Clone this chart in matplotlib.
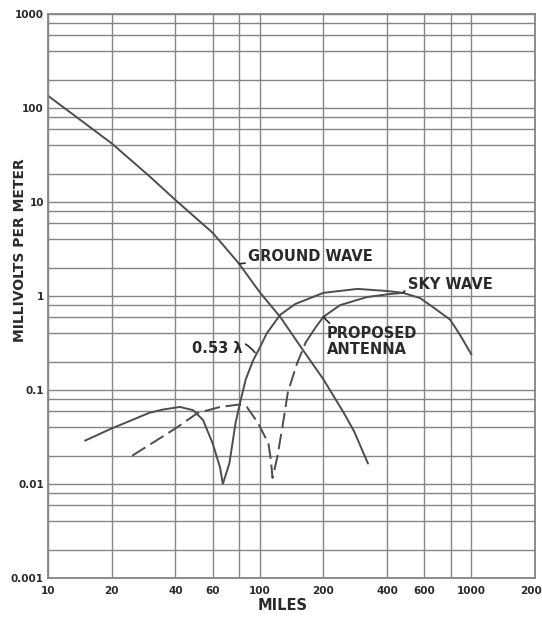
import numpy as np
import matplotlib
matplotlib.use("Agg")
import matplotlib.pyplot as plt
from matplotlib.ticker import FixedLocator, FixedFormatter, NullLocator

# ---------------- data ----------------
ground_x = [10, 20, 30, 40, 60, 80, 100, 125, 160, 200, 250, 280, 325]
ground_y = [135, 42, 19, 10.5, 4.7, 2.2, 1.1, 0.6, 0.267, 0.13, 0.057, 0.036, 0.0165]

lam053_x = [15, 20, 25, 30, 35, 42, 48.5, 54, 60, 65, 67, 72, 77, 81, 86, 93, 100,
            108, 125, 147, 200, 290, 400, 476, 573, 660, 794, 885, 1000]
lam053_y = [0.029, 0.039, 0.048, 0.057, 0.062, 0.066, 0.061, 0.048, 0.027, 0.015,
            0.010, 0.0167, 0.045, 0.075, 0.13, 0.205, 0.28, 0.40, 0.63, 0.82, 1.08,
            1.19, 1.13, 1.08, 0.95, 0.76, 0.56, 0.385, 0.24]

proposed_x = [25, 40, 51, 65, 80, 87, 98, 110, 113, 115, 121, 128, 136, 150, 165,
              183, 200, 240, 322, 413, 476]
proposed_y = [0.02, 0.039, 0.057, 0.066, 0.07, 0.066, 0.045, 0.027, 0.018, 0.0116,
              0.019, 0.04, 0.095, 0.19, 0.32, 0.457, 0.60, 0.80, 0.975, 1.05, 1.08]
proposed_dash_end = 165  # miles: dashed up to here, solid beyond

x_grid = [10, 20, 40, 60, 80, 100, 200, 400, 600, 800, 1000, 2000]
x_labels = ["10", "20", "40", "60", "", "100", "200", "400", "600", "", "1000", "2000"]
y_decades = [0.001, 0.01, 0.1, 1, 10, 100, 1000]
y_decade_labels = ["0.001", "0.01", "0.1", "1", "10", "100", "1000"]
y_sub = [1, 2, 4, 6, 8]

# ---------------- figure ----------------
fig = plt.figure(figsize=(5.42, 6.17), dpi=100)
ax = fig.add_axes([48/542, 1-578/617, (535-48)/542, (578-14)/617])
ax.set_xscale("log")
ax.set_yscale("log")
ax.set_xlim(10, 2000)
ax.set_ylim(0.001, 1000)

grid_col = "#858585"
line_col = "#4d4d4d"
text_col = "#2a2a2a"

# grid via ticks
ax.xaxis.set_major_locator(FixedLocator(x_grid))
ax.xaxis.set_major_formatter(FixedFormatter(x_labels))
ax.xaxis.set_minor_locator(NullLocator())

y_ticks = []
y_labels = []
for d, lab in zip(y_decades, y_decade_labels):
    for s in y_sub:
        v = d * s
        if v > 1000 * 1.0001:
            continue
        y_ticks.append(v)
        y_labels.append(lab if s == 1 else "")
ax.yaxis.set_major_locator(FixedLocator(y_ticks))
ax.yaxis.set_major_formatter(FixedFormatter(y_labels))
ax.yaxis.set_minor_locator(NullLocator())

ax.grid(True, which="major", color=grid_col, linewidth=1.0)
ax.tick_params(length=0, labelsize=7.5, colors=text_col)
ax.tick_params(axis="x", pad=6)
ax.tick_params(axis="y", pad=3)
for lbl in ax.get_xticklabels() + ax.get_yticklabels():
    lbl.set_fontweight("bold")
for sp in ax.spines.values():
    sp.set_color(grid_col)
    sp.set_linewidth(1.3)

# ---------------- curves ----------------
lw = 1.4
ax.plot(ground_x, ground_y, color=line_col, lw=lw, solid_capstyle="round")
ax.plot(lam053_x, lam053_y, color=line_col, lw=lw, solid_joinstyle="miter")

px = np.array(proposed_x, dtype=float)
py = np.array(proposed_y, dtype=float)
m_d = px <= proposed_dash_end
m_s = px >= proposed_dash_end
ax.plot(px[m_d], py[m_d], color=line_col, lw=lw, dashes=(8, 3))
ax.plot(px[m_s], py[m_s], color=line_col, lw=lw)

# ---------------- labels ----------------
fkw = dict(fontsize=10.5, fontweight="bold", color=text_col)
arr = dict(arrowstyle="-", color=text_col, lw=1.2, shrinkA=0, shrinkB=0)

ax.annotate("GROUND WAVE", xy=(80, 2.2), xytext=(88, 2.65),
            ha="left", va="center", arrowprops=arr, **fkw)
ax.annotate("SKY WAVE", xy=(476, 1.08), xytext=(500, 1.32),
            ha="left", va="center",
            arrowprops=dict(arr, connectionstyle="arc3,rad=0.4"), **fkw)
ax.annotate("PROPOSED\nANTENNA", xy=(200, 0.6), xytext=(208, 0.33),
            ha="left", va="center", linespacing=1.05,
            arrowprops=dict(arr, connectionstyle="arc3,rad=-0.2"), **fkw)
ax.annotate("0.53 λ", xy=(95, 0.25), xytext=(48, 0.275),
            ha="left", va="center",
            arrowprops=dict(arr, connectionstyle="arc3,rad=-0.5"), **fkw)

fig.text(20/542, 1-250/617, "MILLIVOLTS PER METER", rotation=90,
         ha="center", va="center", fontsize=10, fontweight="bold", color=text_col)
fig.text(283/542, 1-605/617, "MILES", ha="center", va="center",
         fontsize=10.5, fontweight="bold", color=text_col)

fig.savefig("out.png", dpi=100, facecolor="white")
